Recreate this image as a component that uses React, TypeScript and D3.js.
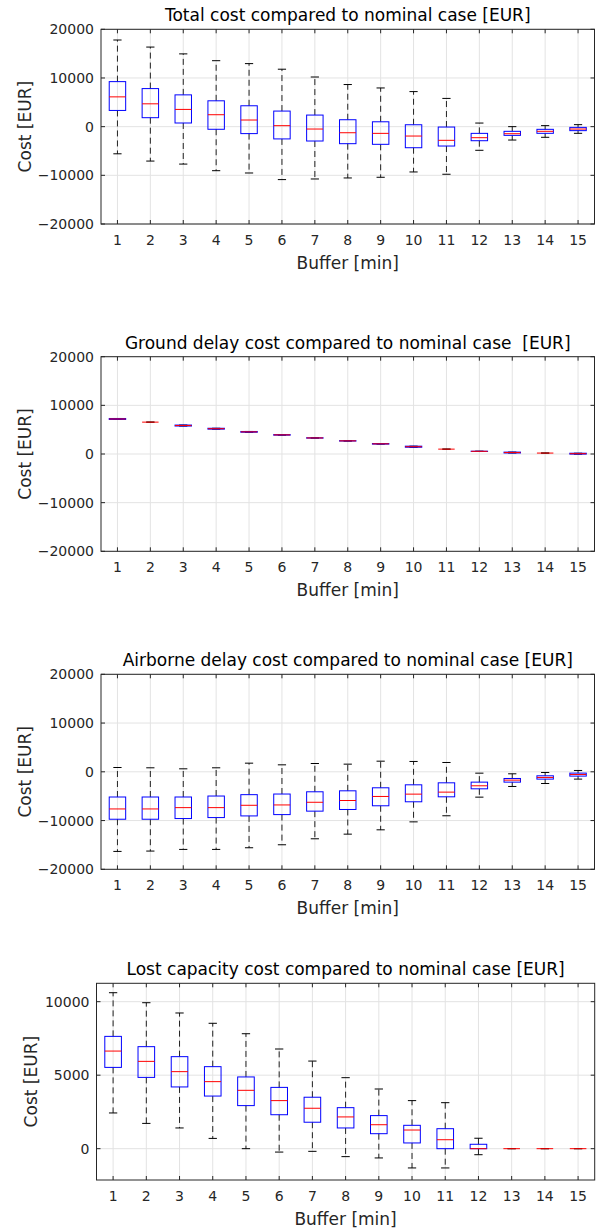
import React from "react";
import * as d3 from "d3";

// ---------- data ----------
const buffers = [1, 2, 3, 4, 5, 6, 7, 8, 9, 10, 11, 12, 13, 14, 15];

const totalUpper = [17800, 16350, 14950, 13550, 12950, 11800, 10200, 8650, 7950, 7200, 5800, 740, 0, 210, 410];
const totalQ3 = [9250, 7820, 6530, 5310, 4290, 3200, 2380, 1420, 1000, 390, -80, -1380, -960, -550, -150];
const totalMedian = [6120, 4690, 3540, 2450, 1360, 200, -490, -1250, -1380, -1930, -2810, -2270, -1450, -960, -490];
const totalQ1 = [3330, 1840, 750, -540, -1430, -2520, -2950, -3500, -3630, -4330, -3980, -2890, -1790, -1370, -820];
const totalLower = [-5580, -7070, -7690, -9050, -9520, -10880, -10750, -10540, -10400, -9310, -9780, -4860, -2750, -2190, -1370];

const groundUpper = [7300, 6550, 5950, 5290, 4630, 3990, 3340, 2740, 2150, 1610, 1000, 570, 390, 190, 160];
const groundQ3 = [7300, 6550, 5950, 5290, 4630, 3990, 3340, 2740, 2150, 1610, 1000, 570, 390, 190, 160];
const groundMedian = [7200, 6550, 5850, 5200, 4550, 3930, 3300, 2700, 2090, 1500, 1000, 550, 300, 190, 70];
const groundQ1 = [7100, 6550, 5750, 5110, 4470, 3870, 3260, 2660, 2030, 1390, 1000, 530, 210, 190, -20];
const groundLower = [7100, 6550, 5750, 5110, 4470, 3870, 3260, 2660, 2030, 1390, 1000, 530, 210, 190, -20];

const airUpper = [880, 820, 610, 820, 1770, 1430, 1700, 1570, 2180, 2120, 1910, -280, -410, -140, 270];
const airQ3 = [-5170, -5170, -5170, -4970, -4690, -4560, -4100, -3900, -3280, -2670, -2260, -2120, -1370, -820, -270];
const airMedian = [-7620, -7620, -7350, -7350, -6870, -6800, -6250, -5890, -5060, -4580, -4170, -2870, -1710, -1160, -550];
const airQ1 = [-9730, -9730, -9590, -9390, -9050, -8780, -8070, -7730, -6970, -6150, -5130, -3490, -2120, -1500, -880];
const airLower = [-16330, -16260, -15920, -15920, -15580, -14970, -13740, -12790, -11900, -10270, -9020, -5200, -3010, -2400, -1500];

const lostUpper = [10610, 9930, 9230, 8530, 7820, 6780, 5960, 4830, 4060, 3270, 3130, 710, 0, 0, 0];
const lostQ3 = [7640, 6940, 6260, 5580, 4880, 4170, 3500, 2790, 2250, 1590, 1360, 300, 0, 0, 0];
const lostMedian = [6640, 5940, 5240, 4560, 3970, 3270, 2750, 2160, 1630, 1270, 610, 0, 0, 0, 0];
const lostQ1 = [5530, 4850, 4200, 3580, 2930, 2310, 1800, 1410, 1020, 390, 0, 0, 0, 0, 0];
const lostLower = [2430, 1720, 1410, 700, 0, -230, -180, -540, -630, -1310, -1310, -410, 0, 0, 0];

const titles = [
  "Total cost compared to nominal case [EUR]",
  "Ground delay cost compared to nominal case  [EUR]",
  "Airborne delay cost compared to nominal case [EUR]",
  "Lost capacity cost compared to nominal case [EUR]",
];
const yTicksWide = [-20000, -10000, 0, 10000, 20000];
const yTicksLost = [0, 5000, 10000];
const xLabel = "Buffer [min]";
const yLabel = "Cost [EUR]";

// ---------- layout ----------
const FONT = "DejaVu Sans, sans-serif";
const panels = [
  { top: 29.3, bottom: 224, left: 101, right: 594.5, domain: [-20000, 20000], ticks: yTicksWide, ylabX: 31,
    data: [totalLower, totalQ1, totalMedian, totalQ3, totalUpper] },
  { top: 356.7, bottom: 551.3, left: 101, right: 594.5, domain: [-20000, 20000], ticks: yTicksWide, ylabX: 31,
    data: [groundLower, groundQ1, groundMedian, groundQ3, groundUpper] },
  { top: 674.3, bottom: 869.3, left: 101, right: 594.5, domain: [-20000, 20000], ticks: yTicksWide, ylabX: 31,
    data: [airLower, airQ1, airMedian, airQ3, airUpper] },
  { top: 983.3, bottom: 1180, left: 96.5, right: 594.7, domain: [-2130, 11250], ticks: yTicksLost, ylabX: 37,
    data: [lostLower, lostQ1, lostMedian, lostQ3, lostUpper] },
];

function Panel({ p, title }: { p: any; title: string }) {
  const x = d3.scaleLinear().domain([0.5, 15.5]).range([p.left, p.right]);
  const y = d3.scaleLinear().domain(p.domain).range([p.bottom, p.top]);
  const [lo, q1, med, q3, hi] = p.data;
  const bw = (x(1.25) - x(1)); // half box width
  const cw = (x(1.125) - x(1)); // half cap width
  const tl = 4;
  const cx = (p.left + p.right) / 2;
  const cy = (p.top + p.bottom) / 2;
  return (
    <g>
      {/* grid */}
      {buffers.map((b) => (
        <line key={"gx" + b} x1={x(b)} x2={x(b)} y1={p.top} y2={p.bottom} stroke="#e3e3e3" strokeWidth={1} />
      ))}
      {p.ticks.map((t: number) => (
        <line key={"gy" + t} x1={p.left} x2={p.right} y1={y(t)} y2={y(t)} stroke="#e3e3e3" strokeWidth={1} />
      ))}
      {/* boxes */}
      {buffers.map((b, i) => (
        <g key={"b" + b}>
          <line x1={x(b)} x2={x(b)} y1={y(q3[i])} y2={y(hi[i])} stroke="#222" strokeWidth={1} strokeDasharray="6,4" />
          <line x1={x(b)} x2={x(b)} y1={y(q1[i])} y2={y(lo[i])} stroke="#222" strokeWidth={1} strokeDasharray="6,4" />
          <line x1={x(b) - cw} x2={x(b) + cw} y1={y(hi[i])} y2={y(hi[i])} stroke="#000" strokeWidth={1} />
          <line x1={x(b) - cw} x2={x(b) + cw} y1={y(lo[i])} y2={y(lo[i])} stroke="#000" strokeWidth={1} />
          <rect x={x(b) - bw} y={y(q3[i])} width={2 * bw} height={Math.max(0, y(q1[i]) - y(q3[i]))}
            fill="none" stroke="#0000ff" strokeWidth={1} />
          <line x1={x(b) - bw} x2={x(b) + bw} y1={y(med[i])} y2={y(med[i])} stroke="#ff0000" strokeWidth={1} />
        </g>
      ))}
      {/* frame + ticks */}
      <rect x={p.left} y={p.top} width={p.right - p.left} height={p.bottom - p.top} fill="none" stroke="#262626" strokeWidth={1} />
      {buffers.map((b) => (
        <g key={"tx" + b}>
          <line x1={x(b)} x2={x(b)} y1={p.bottom} y2={p.bottom - tl} stroke="#262626" />
          <line x1={x(b)} x2={x(b)} y1={p.top} y2={p.top + tl} stroke="#262626" />
          <text x={x(b)} y={p.bottom + 21} textAnchor="middle" fontFamily={FONT} fontSize={14} fill="#262626">{b}</text>
        </g>
      ))}
      {p.ticks.map((t: number) => (
        <g key={"ty" + t}>
          <line x1={p.left} x2={p.left + tl} y1={y(t)} y2={y(t)} stroke="#262626" />
          <line x1={p.right} x2={p.right - tl} y1={y(t)} y2={y(t)} stroke="#262626" />
          <text x={p.left - 7} y={y(t) + 5} textAnchor="end" fontFamily={FONT} fontSize={14} fill="#262626">
            {t < 0 ? "\u2212" + Math.abs(t) : String(t)}
          </text>
        </g>
      ))}
      <text x={cx} y={p.top - 8} textAnchor="middle" fontFamily={FONT} fontSize={17} fill="#000"
        style={{ whiteSpace: "pre" }}>{title}</text>
      <text x={cx} y={p.bottom + 45} textAnchor="middle" fontFamily={FONT} fontSize={17} fill="#262626">{xLabel}</text>
      <text transform={`translate(${p.ylabX},${cy}) rotate(-90)`} textAnchor="middle" fontFamily={FONT} fontSize={17} fill="#262626">{yLabel}</text>
    </g>
  );
}

export default function App() {
  return (
    <svg width={603} height={1232} style={{ position: "absolute", left: 0, top: 0, background: "#fff" }}>
      <rect x={0} y={0} width={603} height={1232} fill="#fff" />
      {panels.map((p, i) => (
        <Panel key={i} p={p} title={titles[i]} />
      ))}
    </svg>
  );
}
